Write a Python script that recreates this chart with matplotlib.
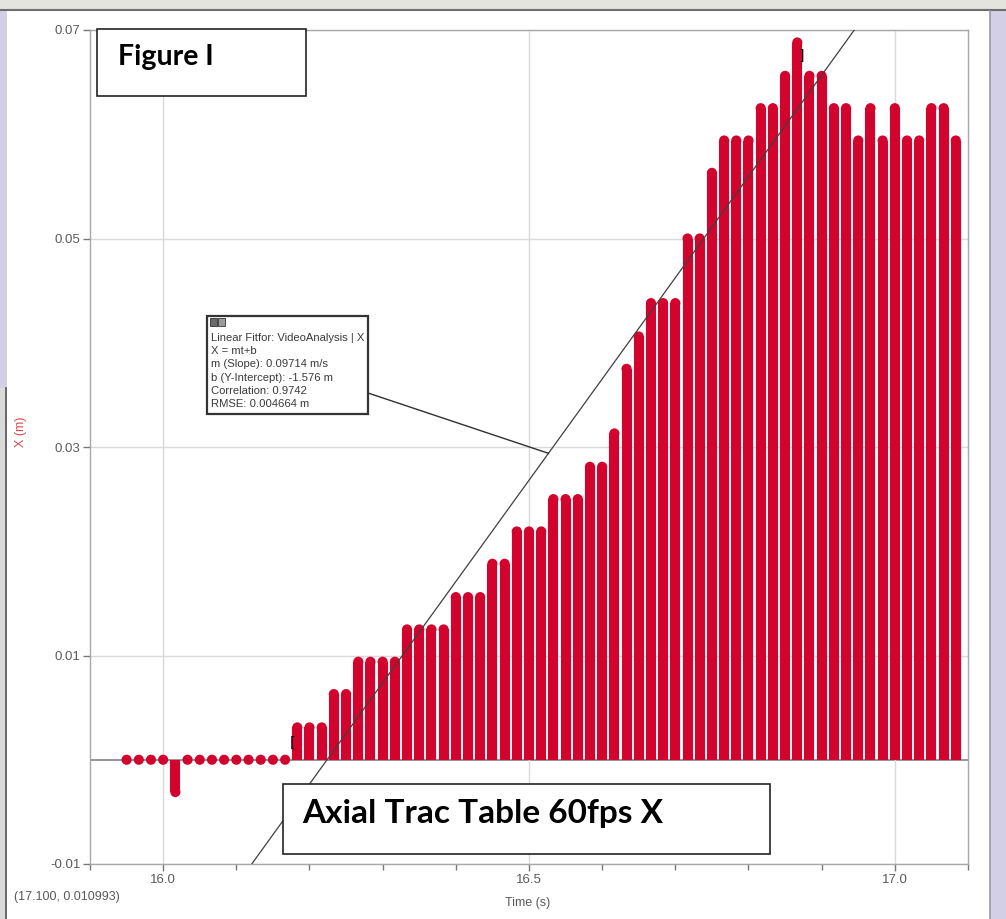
import matplotlib
matplotlib.use("Agg")
import matplotlib.pyplot as plt
from matplotlib.patches import Rectangle
from matplotlib.lines import Line2D
import numpy as np

# ---------------- data ----------------
time_s = [15.9500, 15.9667, 15.9833, 16.0000, 16.0167, 16.0333, 16.0500, 16.0667,
          16.0833, 16.1000, 16.1167, 16.1333, 16.1500, 16.1667, 16.1833, 16.2000,
          16.2167, 16.2333, 16.2500, 16.2667, 16.2833, 16.3000, 16.3167, 16.3333,
          16.3500, 16.3667, 16.3833, 16.4000, 16.4167, 16.4333, 16.4500, 16.4667,
          16.4833, 16.5000, 16.5167, 16.5333, 16.5500, 16.5667, 16.5833, 16.6000,
          16.6167, 16.6333, 16.6500, 16.6667, 16.6833, 16.7000, 16.7167, 16.7333,
          16.7500, 16.7667, 16.7833, 16.8000, 16.8167, 16.8333, 16.8500, 16.8667,
          16.8833, 16.9000, 16.9167, 16.9333, 16.9500, 16.9667, 16.9833, 17.0000,
          17.0167, 17.0333, 17.0500, 17.0667, 17.0833]

x_m = [0.0, 0.0, 0.0, 0.0, -0.0031, 0.0, 0.0, 0.0, 0.0, 0.0, 0.0, 0.0, 0.0, 0.0,
       0.0031, 0.0031, 0.0031,
       0.0063, 0.0063,
       0.0094, 0.0094, 0.0094, 0.0094,
       0.0125, 0.0125, 0.0125, 0.0125,
       0.0156, 0.0156, 0.0156,
       0.0188, 0.0188,
       0.0219, 0.0219, 0.0219,
       0.0250, 0.0250, 0.0250,
       0.0281, 0.0281,
       0.0313,
       0.0375,
       0.0406,
       0.0438, 0.0438, 0.0438,
       0.0500, 0.0500,
       0.0563,
       0.0594, 0.0594, 0.0594,
       0.0625, 0.0625,
       0.0656,
       0.0688,
       0.0656, 0.0656,
       0.0625, 0.0625,
       0.0594,
       0.0625,
       0.0594,
       0.0625,
       0.0594, 0.0594,
       0.0625, 0.0625,
       0.0594]

fit_slope = 0.09714
fit_intercept = -1.576
fit_lines = ["Linear Fitfor: VideoAnalysis | X",
             "X = mt+b",
             "m (Slope): 0.09714 m/s",
             "b (Y-Intercept): -1.576 m",
             "Correlation: 0.9742",
             "RMSE: 0.004664 m"]

y_ticks = [-0.01, 0.01, 0.03, 0.05, 0.07]
y_ticklabels = ["-0.01", "0.01", "0.03", "0.05", "0.07"]
x_ticks = [16.0, 16.5, 17.0]
x_ticklabels = ["16.0", "16.5", "17.0"]

W, H = 1006, 919
RED = "#D2032C"
GRAY_TXT = "#5A5A5A"


def fx(px):
    return px / W


def fy(py):
    return 1 - py / H


fig = plt.figure(figsize=(W / 100, H / 100), dpi=100)
fig.patch.set_facecolor("white")

# ---------------- window frame decoration ----------------
fig.add_artist(Rectangle((0, fy(9)), 1, 9 / H, transform=fig.transFigure,
                         facecolor="#E4E4DE", edgecolor="none", zorder=0))
fig.add_artist(Line2D([0, 1], [fy(10), fy(10)], transform=fig.transFigure,
                      color="#6E6E6E", lw=1.5, zorder=1))
fig.add_artist(Rectangle((fx(990), 0), 16 / W, fy(11), transform=fig.transFigure,
                         facecolor="#D3CFE6", edgecolor="none", zorder=0))
fig.add_artist(Line2D([fx(990), fx(990)], [0, fy(11)], transform=fig.transFigure,
                      color="#9A9A9A", lw=1.2, zorder=1))
fig.add_artist(Rectangle((0, fy(388)), 7 / W, (388 - 11) / H, transform=fig.transFigure,
                         facecolor="#D3CFE6", edgecolor="none", zorder=0))
fig.add_artist(Rectangle((0, 0), 7 / W, fy(388), transform=fig.transFigure,
                         facecolor="#DADADA", edgecolor="none", zorder=0))
fig.add_artist(Line2D([fx(6), fx(6)], [0, fy(388)], transform=fig.transFigure,
                      color="#555555", lw=1.2, zorder=1))

# ---------------- axes ----------------
ax = fig.add_axes([fx(90), fy(864), (968 - 90) / W, (864 - 30) / H])
ax.set_xlim(15.9, 17.1)
ax.set_ylim(-0.01, 0.07)
ax.set_facecolor("white")

for s in ax.spines.values():
    s.set_color("#A8A8A8")
    s.set_linewidth(1.0)

ax.set_yticks(y_ticks)
ax.set_yticklabels(y_ticklabels)
ax.set_xticks(x_ticks)
ax.set_xticklabels(x_ticklabels)
ax.set_xticks(np.arange(15.9, 17.1001, 0.1), minor=True)
ax.tick_params(axis="both", which="major", direction="out", length=5, width=1,
               color="#777777", labelcolor=GRAY_TXT, labelsize=9.5, pad=2)
ax.tick_params(axis="x", which="minor", direction="out", length=4, width=1,
               color="#777777")
for lab in ax.get_xticklabels() + ax.get_yticklabels():
    lab.set_fontfamily("Liberation Sans")
ax.grid(True, which="major", color="#D9D9D9", lw=1.0, zorder=0)
ax.axhline(0, color="#8C8C8C", lw=1.3, zorder=1)

# stems
lw_pt = 7.3
ax.vlines(time_s, 0, x_m, colors=RED, linewidth=lw_pt, zorder=3,
          capstyle="butt")
ax.scatter(time_s, x_m, s=lw_pt ** 2, color=RED, edgecolors="none", zorder=3)

# linear fit
tt = np.array([15.9, 17.1])
ax.plot(tt, fit_slope * tt + fit_intercept, color="#404040", lw=0.9, zorder=4)

# fit range brackets
ax.text(16.177, 0.0016, "[", fontsize=10, color="black", ha="center", va="center",
        zorder=5, fontfamily="DejaVu Sans")
ax.text(16.872, 0.0675, "]", fontsize=10, color="black", ha="center", va="center",
        zorder=5, fontfamily="DejaVu Sans")

# axis labels
fig.text(fx(528), fy(903), "Time (s)", ha="center", va="center", fontsize=9,
         color=GRAY_TXT, fontfamily="Liberation Sans")
fig.text(fx(21), fy(432), "X (m)", ha="center", va="center", fontsize=9,
         color="#D9484A", rotation=90, fontfamily="Liberation Sans")
fig.text(fx(14), fy(897), "(17.100, 0.010993)", ha="left", va="center", fontsize=9,
         color=GRAY_TXT, fontfamily="Liberation Sans")

# ---------------- fit annotation box ----------------
t_anchor = 16.5266
y_anchor = fit_slope * t_anchor + fit_intercept
xa, ya = fig.transFigure.inverted().transform(ax.transData.transform((t_anchor, y_anchor)))
fig.add_artist(Line2D([fx(368), xa], [fy(393), ya], transform=fig.transFigure,
                      color="#303030", lw=1.0, zorder=6))
fig.add_artist(Rectangle((fx(207), fy(414)), (368 - 207) / W, (414 - 316) / H,
                         transform=fig.transFigure, facecolor="white",
                         edgecolor="#333333", lw=1.6, zorder=7))
for i, x0 in enumerate([210, 218]):
    fig.add_artist(Rectangle((fx(x0), fy(326)), 7 / W, 8 / H, transform=fig.transFigure,
                             facecolor="#6A6A6A" if i == 0 else "#9A9A9A",
                             edgecolor="#333333", lw=0.6, zorder=8))
for i, line in enumerate(fit_lines):
    t = fig.text(fx(211), fy(338 + i * 13.2), line, ha="left", va="center", fontsize=8.1,
                 color="#3A3A3A", fontfamily="Liberation Sans", zorder=8)
    t.set_clip_on(False)

# ---------------- title boxes ----------------
fig.add_artist(Rectangle((fx(97), fy(96)), (306 - 97) / W, (96 - 29) / H,
                         transform=fig.transFigure, facecolor="white",
                         edgecolor="#222222", lw=1.2, zorder=7))
fig.text(fx(118), fy(57), "Figure I", ha="left", va="center", fontsize=20.5,
         fontweight="bold", color="black", fontfamily="Lato", zorder=8)

fig.add_artist(Rectangle((fx(283), fy(854)), (770 - 283) / W, (854 - 784) / H,
                         transform=fig.transFigure, facecolor="white",
                         edgecolor="#222222", lw=1.2, zorder=7))
fig.text(fx(302), fy(814), "Axial Trac Table 60fps X", ha="left", va="center",
         fontsize=24, fontweight="bold", color="black", fontfamily="Lato", zorder=8)

fig.savefig("out.png", dpi=100, facecolor=fig.get_facecolor())
